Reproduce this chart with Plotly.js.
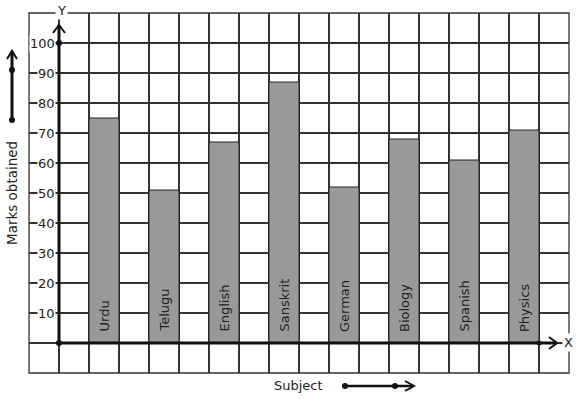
<!DOCTYPE html>
<html><head><meta charset="utf-8">
<script src="https://cdn.plot.ly/plotly-3.0.1.min.js"></script>
<style>html,body{margin:0;padding:0;background:#fff}#c{width:577px;height:399px}</style>
</head><body><div id="c"></div>
<script>
const subjects = ["Urdu","Telugu","English","Sanskrit","German","Biology","Spanish","Physics"];
const marks = [75, 51, 67, 87, 52, 68, 61, 71];
const barPositions = [1.5, 3.5, 5.5, 7.5, 9.5, 11.5, 13.5, 15.5];
const yTickVals = [10,20,30,40,50,60,70,80,90,100];
const yTickText = ["10","20","30","40","50","60","70","80","90","100"];

const W = 577, H = 399, L = 29, R = 569, T = 13, B = 373;
const px = x => (x - L) / (R - L);
const py = y => (B - y) / (B - T);
const ink = '#111';
const font = {family: 'DejaVu Sans, sans-serif', size: 13, color: '#222'};

function line(x0,y0,x1,y1,w){return {type:'line',xref:'paper',yref:'paper',x0:px(x0),y0:py(y0),x1:px(x1),y1:py(y1),line:{color:ink,width:w||2.5},layer:'above'};}
function path(pts,w){return {type:'path',xref:'paper',yref:'paper',path:'M'+pts.map(p=>px(p[0])+','+py(p[1])).join(' L'),line:{color:ink,width:w||2},layer:'above'};}
function dot(x,y,r){r=r||3;return {type:'circle',xref:'paper',yref:'paper',x0:px(x-r),x1:px(x+r),y0:py(y+r),y1:py(y-r),fillcolor:ink,line:{color:ink,width:0},layer:'above'};}

const shapes = [
  {type:'rect',xref:'paper',yref:'paper',x0:0,x1:1,y0:0,y1:1,line:{color:'#333',width:1.3},layer:'above'},
  line(59,343,557,343,3), path([[549,337],[557,343],[549,349]],2),
  dot(59,343,3), dot(539,343,2.5),
  line(59,343,59,25,3), path([[53,33],[59,25],[65,33]],2), dot(59,43,3),
  line(12,120,12,51,3), path([[7,59],[12,51],[17,59]],2), dot(12,120,3), dot(12,70,3),
  line(345,386,413,386,2.5), path([[405,381],[414,386],[405,391]],2), dot(345,386,3), dot(395,386,3)
];

const data = [{
  type:'bar', x: barPositions, y: marks, width: 1,
  marker:{color:'#999999', line:{color:'#222', width:1}},
  hoverinfo:'none'
}];

const barLabels = subjects.map((s,i)=>({
  xref:'x', yref:'y', x: barPositions[i], y: 0, yshift: 9, text: s, textangle: -90,
  showarrow:false, font: font, xanchor:'center', yanchor:'bottom'
}));

const tickLabels = yTickVals.map((v,i)=>({
  xref:'paper', yref:'y', x: px(56), y: v, text: yTickText[i], showarrow:false,
  font: font, xanchor:'right', yanchor:'middle', bgcolor:'#fff', borderpad:0
}));

const layout = {
  width: W, height: H,
  margin:{l:L, r:W-R, t:T, b:H-B, pad:0},
  paper_bgcolor:'#fff', plot_bgcolor:'#fff',
  showlegend:false,
  xaxis:{range:[-1,17], tickmode:'linear', tick0:-1, dtick:1, showticklabels:false, ticks:'',
         showgrid:true, gridcolor:'#333', gridwidth:1.3, zeroline:false, showline:false, fixedrange:true},
  yaxis:{range:[-10,110], tickmode:'linear', tick0:0, dtick:10, showticklabels:false,
         ticks:'', showgrid:true, gridcolor:'#333', gridwidth:1.3, zeroline:false, showline:false,
         fixedrange:true},
  shapes: shapes,
  annotations: barLabels.concat(tickLabels, [
    {xref:'paper',yref:'paper',x:px(61),y:py(10),text:'Y',showarrow:false,font:font,bgcolor:'#fff',xanchor:'center',yanchor:'middle'},
    {xref:'paper',yref:'paper',x:px(568),y:py(342),text:'X',showarrow:false,font:font,bgcolor:'#fff',xanchor:'center',yanchor:'middle'},
    {xref:'paper',yref:'paper',x:px(12),y:py(193),text:'Marks obtained',showarrow:false,font:Object.assign({},font,{size:13.5}),textangle:-90,xanchor:'center',yanchor:'middle'},
    {xref:'paper',yref:'paper',x:px(298),y:py(385),text:'Subject',showarrow:false,font:font,xanchor:'center',yanchor:'middle'}
  ])
};
Plotly.newPlot('c', data, layout, {staticPlot:true, displayModeBar:false});
</script></body></html>
